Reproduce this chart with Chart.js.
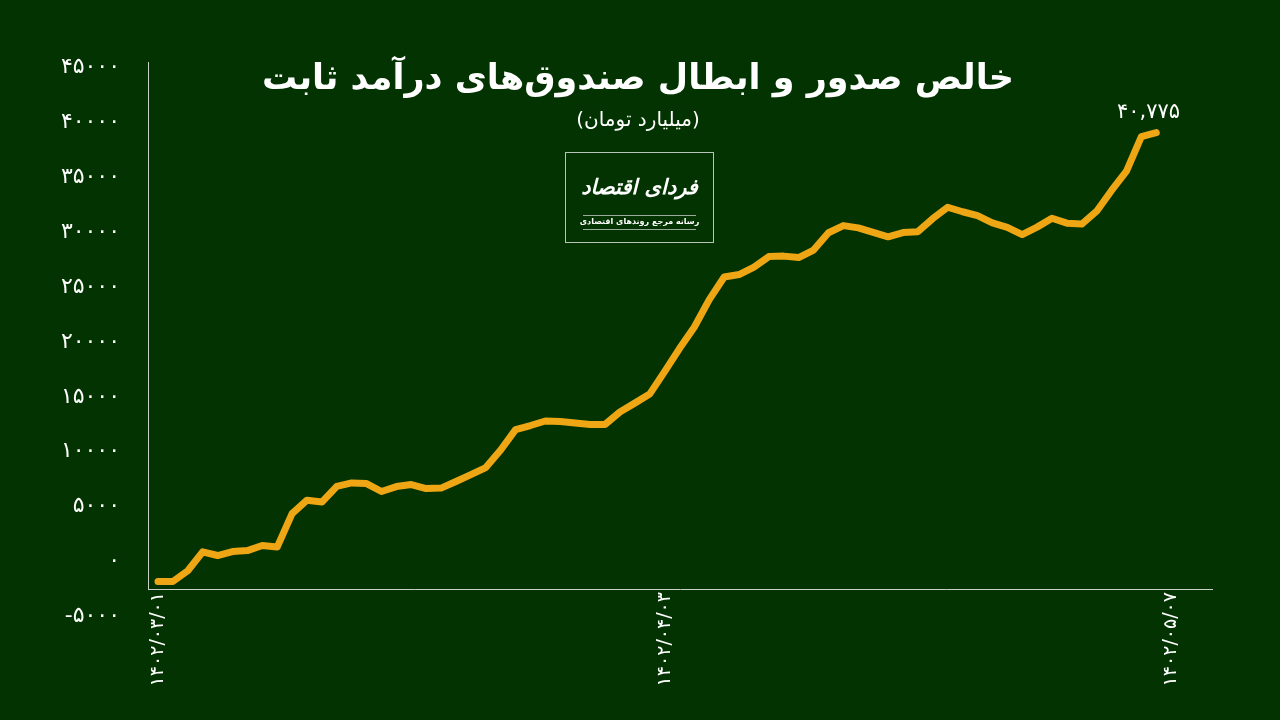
<!DOCTYPE html>
<html lang="fa">
<head>
<meta charset="utf-8">
<script src="https://cdn.jsdelivr.net/npm/chart.js@4"></script>
<style>
  html, body { margin: 0; padding: 0; background: #023300; }
  #wrap { position: relative; width: 1280px; height: 720px; overflow: hidden; font-family: 'DejaVu Sans', sans-serif; color: #fff; }
  canvas { position: absolute; left: 0; top: 0; }
  .title { position: absolute; left: 0; width: 1276px; top: 57px; text-align: center; direction: rtl; font-size: 35px; font-weight: bold; white-space: nowrap; }
  .sub { position: absolute; left: 0; width: 1276px; top: 107px; text-align: center; direction: rtl; font-size: 20px; white-space: nowrap; }
  .logo { position: absolute; left: 565px; top: 152px; width: 147px; height: 89px; border: 1px solid #b8c4b8; direction: rtl; text-align: center; }
  .logo .name { position: absolute; left: 0; width: 100%; top: 22px; font-size: 21px; font-weight: bold; font-style: italic; white-space: nowrap; }
  .logo .line { position: absolute; left: 17px; width: 113px; height: 1px; background: #9aaa9a; }
  .logo .tag { position: absolute; left: 0; width: 100%; top: 64px; font-size: 8px; font-weight: bold; white-space: nowrap; }
  .last { position: absolute; left: 1117px; top: 99px; font-size: 21px; white-space: nowrap; }
</style>
</head>
<body>
<div id="wrap">
  <canvas id="c" width="1280" height="720"></canvas>
  <div class="title">خالص صدور و ابطال صندوق‌های درآمد ثابت</div>
  <div class="sub">(میلیارد تومان)</div>
  <div class="logo">
    <div class="name">فردای اقتصاد</div>
    <div class="line" style="top:62px"></div>
    <div class="tag">رسانه مرجع روندهای اقتصادی</div>
    <div class="line" style="top:76px"></div>
  </div>
  <div class="last">۴۰,۷۷۵</div>
</div>
<script>
// روزها از ۱۴۰۲/۰۳/۰۱ (شماره روز روی محور)
const days = [0, 1, 2, 3, 4, 5, 6, 7, 8, 9, 10, 11, 12, 13, 14, 15, 16, 17, 18, 19,
  20, 21, 22, 23, 24, 25, 26, 27, 28, 29, 30, 31, 32, 33, 34, 35, 36, 37, 38, 39,
  40, 41, 42, 43, 44, 45, 46, 47, 48, 49, 50, 51, 52, 53, 54, 55, 56, 57, 58, 59,
  60, 61, 62, 63, 64, 65, 66, 67];

// خالص صدور و ابطال تجمعی (میلیارد تومان)
const netFlow = [-1820, -1820, -840, 880, 550, 910, 1000, 1460, 1320, 4370,
  5590, 5420, 6850, 7160, 7100, 6380, 6830, 7010, 6650, 6690,
  7290, 7920, 8560, 10160, 12020, 12390, 12800, 12750, 12610, 12480,
  12480, 13620, 14430, 15250, 17300, 19400, 21360, 23860, 25920, 26140,
  26820, 27780, 27820, 27690, 28370, 29950, 30600, 30390, 29980, 29580,
  29960, 30040, 31240, 32270, 31860, 31510, 30850, 30440, 29780, 30460,
  31270, 30820, 30740, 31910, 33800, 35560, 38710, 39070];

const dateTickPos = [0, 34, 68];
const dateTickLabels = ['۱۴۰۲/۰۳/۰۱', '۱۴۰۲/۰۴/۰۳', '۱۴۰۲/۰۵/۰۷'];
const yTickValues = [-5000, 0, 5000, 10000, 15000, 20000, 25000, 30000, 35000, 40000, 45000];

const faDigits = '۰۱۲۳۴۵۶۷۸۹';
function toFa(s) {
  return String(s).replace(/[0-9]/g, d => faDigits[+d]);
}

const axisColor = '#c9d1c9';
const lineColor = '#eea615';

new Chart(document.getElementById('c'), {
  type: 'line',
  data: {
    labels: days,
    datasets: [{
      data: netFlow,
      borderColor: lineColor,
      backgroundColor: lineColor,
      borderWidth: 7,
      borderJoinStyle: 'round',
      borderCapStyle: 'round',
      pointRadius: 0,
      tension: 0,
      fill: false,
    }],
  },
  options: {
    responsive: false,
    animation: false,
    events: [],
    layout: { padding: { left: 0, top: 62, right: 68, bottom: 0 } },
    plugins: { legend: { display: false }, tooltip: { enabled: false } },
    scales: {
      x: {
        type: 'linear',
        min: -0.67,
        max: 70.74,
        afterFit: (s) => { s.height = 131; },
        afterBuildTicks: (s) => { s.ticks = dateTickPos.map(v => ({ value: v })); },
        grid: { display: false, drawTicks: false },
        border: { display: true, color: axisColor, width: 1 },
        ticks: {
          autoSkip: false,
          minRotation: 90,
          maxRotation: 90,
          padding: 3,
          color: '#ffffff',
          font: { family: 'DejaVu Sans', size: 19 },
          callback: (v) => dateTickLabels[dateTickPos.indexOf(v)] || '',
        },
      },
      y: {
        min: -2500,
        max: 45500,
        afterFit: (s) => { s.width = 148; },
        afterBuildTicks: (s) => { s.ticks = yTickValues.map(v => ({ value: v })); },
        grid: { display: false, drawTicks: false },
        border: { display: true, color: axisColor, width: 1 },
        ticks: {
          autoSkip: false,
          padding: 28,
          color: '#ffffff',
          font: { family: 'DejaVu Sans', size: 22 },
          callback: (v) => toFa(v),
        },
      },
    },
  },
});
</script>
</body>
</html>
